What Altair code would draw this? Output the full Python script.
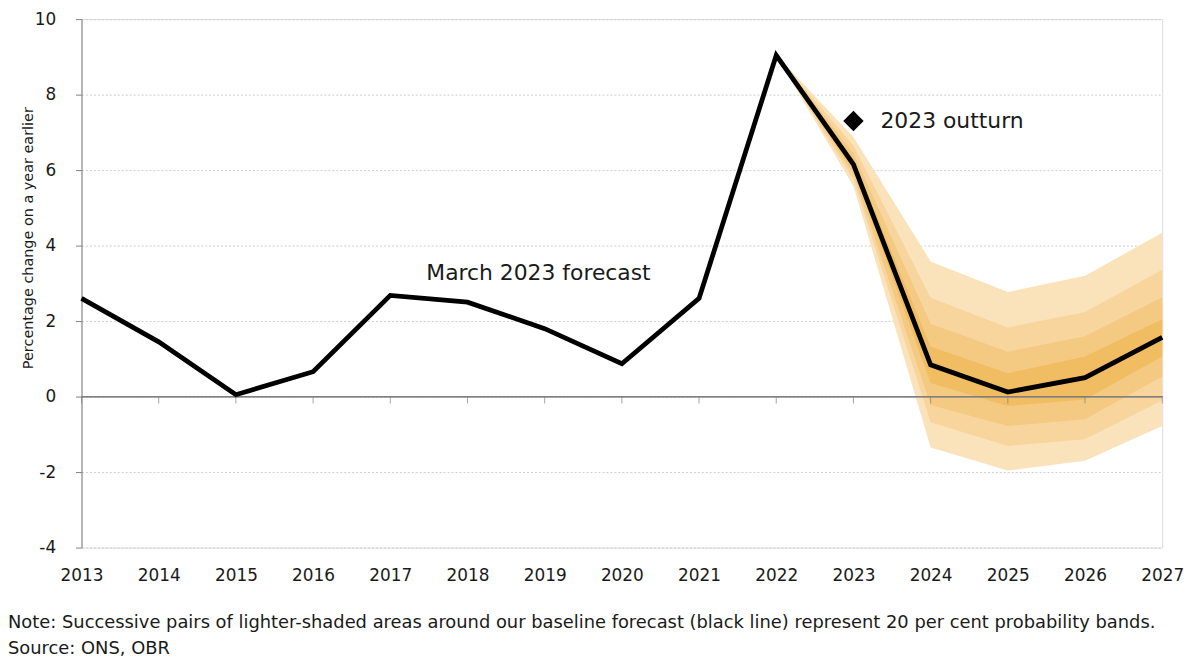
import altair as alt
import pandas as pd

# ---- data ----
years = list(range(2013, 2028))
forecast = [2.6, 1.45, 0.05, 0.66, 2.68, 2.5, 1.8, 0.87, 2.6, 9.04, 6.15, 0.84, 0.12, 0.5, 1.57]

fan_years = [2022, 2023, 2024, 2025, 2026, 2027]
band4_hi = [9.04, 6.88, 3.58, 2.77, 3.20, 4.34]
band4_lo = [9.04, 5.57, -1.35, -1.96, -1.70, -0.78]
band3_hi = [9.04, 6.65, 2.62, 1.83, 2.24, 3.36]
band3_lo = [9.04, 5.75, -0.68, -1.31, -1.13, -0.10]
band2_hi = [9.04, 6.45, 1.93, 1.19, 1.60, 2.63]
band2_lo = [9.04, 5.90, -0.22, -0.78, -0.60, 0.53]
band1_hi = [9.04, 6.30, 1.32, 0.62, 1.06, 2.05]
band1_lo = [9.04, 6.02, 0.36, -0.25, -0.08, 1.06]
band_colors = ["#fae3bb", "#f7d59d", "#f4c981", "#f0bd62"]  # outer -> inner

outturn_year = [2023]
outturn_value = [7.3]

labels_text = ["March 2023 forecast", "2023 outturn"]
labels_x = [2018.92, 2023.35]
labels_y = [3.26, 7.3]
labels_align = ["center", "left"]

y_ticks = [-4, -2, 0, 2, 4, 6, 8, 10]
note_text = "Note: Successive pairs of lighter-shaded areas around our baseline forecast (black line) represent 20 per cent probability bands."
source_text = "Source: ONS, OBR"

FONT = "DejaVu Sans"
W, H = 1088, 532

line_df = pd.DataFrame({"year": years, "value": forecast})
bands = [(band4_lo, band4_hi), (band3_lo, band3_hi), (band2_lo, band2_hi), (band1_lo, band1_hi)]

xs = alt.Scale(domain=[2013, 2027], nice=False, zero=False)
ys = alt.Scale(domain=[-4, 10], nice=False, zero=False)

x_axis = alt.Axis(values=years, format="d", domain=False, ticks=False, grid=False,
                  labelPadding=20, labelFontSize=17, labelColor="#1a1a1a", labelFont=FONT,
                  labelFlush=False, labelOverlap=False, title=None)
y_axis = alt.Axis(values=y_ticks, grid=True, gridDash=[2, 2], gridColor="#cfcfcf",
                  domain=True, domainColor="#808080", tickColor="#808080", tickSize=6,
                  labelPadding=20, labelFontSize=17, labelColor="#1a1a1a", labelFont=FONT,
                  labelExpr="'' + datum.value",
                  title="Percentage change on a year earlier", titleFontSize=14.5,
                  titleFontWeight="normal", titleFont=FONT, titleColor="#1a1a1a",
                  titleX=-53, titleY=220, titleAngle=270, titleBaseline="middle",
                  titleAlign="center")

layers = []
base_line = alt.Chart(line_df).mark_line(opacity=0).encode(
    x=alt.X("year:Q", scale=xs, axis=x_axis),
    y=alt.Y("value:Q", scale=ys, axis=y_axis),
)
layers.append(base_line)

for (lo, hi), col in zip(bands, band_colors):
    df = pd.DataFrame({"year": fan_years, "lo": lo, "hi": hi})
    layers.append(
        alt.Chart(df).mark_area(color=col, opacity=1).encode(
            x=alt.X("year:Q", scale=xs), y=alt.Y("lo:Q", scale=ys), y2="hi:Q"
        )
    )

zero_rule = alt.Chart(line_df).mark_rule(color="#808080", strokeWidth=1).encode(y=alt.datum(0))
zero_ticks = alt.Chart(line_df).mark_tick(orient="vertical", color="#808080", size=7,
                                          thickness=1, yOffset=3.5).encode(
    x=alt.X("year:Q", scale=xs), y=alt.datum(0, scale=ys)
)
layers += [zero_rule, zero_ticks]

line = alt.Chart(line_df).mark_line(color="black", strokeWidth=4.8, strokeJoin="miter").encode(
    x=alt.X("year:Q", scale=xs), y=alt.Y("value:Q", scale=ys)
)
layers.append(line)

out_df = pd.DataFrame({"year": outturn_year, "value": outturn_value})
layers.append(
    alt.Chart(out_df).mark_point(shape="diamond", filled=True, color="black", size=420, opacity=1).encode(
        x=alt.X("year:Q", scale=xs), y=alt.Y("value:Q", scale=ys)
    )
)

for t, lx, ly, al in zip(labels_text, labels_x, labels_y, labels_align):
    d = pd.DataFrame({"t": [t], "x": [lx], "y": [ly]})
    layers.append(
        alt.Chart(d).mark_text(align=al, baseline="middle", fontSize=22, font=FONT, color="#1a1a1a").encode(
            x=alt.X("x:Q", scale=xs), y=alt.Y("y:Q", scale=ys), text="t:N"
        )
    )

for t, yy in [(note_text, 608), (source_text, 634)]:
    d = pd.DataFrame({"t": [t]})
    layers.append(
        alt.Chart(d).mark_text(align="left", baseline="middle", fontSize=18, font=FONT, color="#1a1a1a").encode(
            x=alt.value(-74), y=alt.value(yy), text="t:N"
        )
    )

chart = alt.layer(*layers).properties(
    width=W, height=H,
    autosize=alt.AutoSizeParams(type="none"),
    padding={"left": 74, "top": 9, "right": 30, "bottom": 110},
).configure_view(stroke=None).configure(background="white")

chart.save("out.html", embed_options={"renderer": "svg", "actions": False})
